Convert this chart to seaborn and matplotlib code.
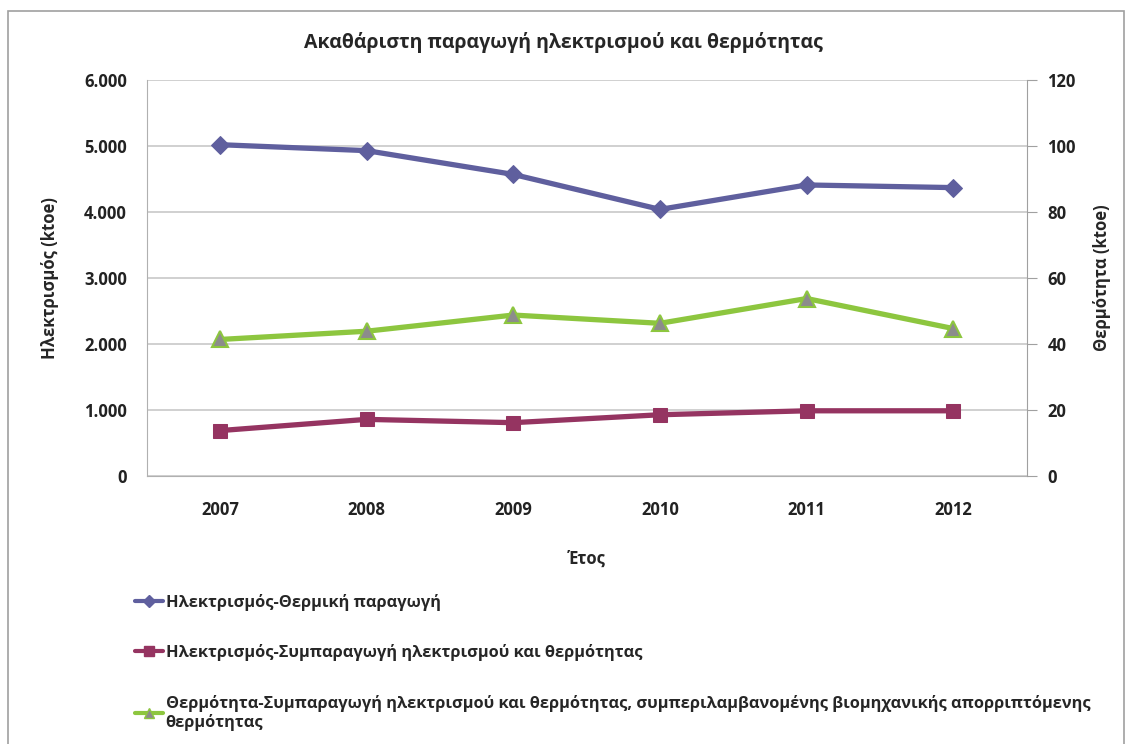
import seaborn as sns
import matplotlib.pyplot as plt
import matplotlib.patches as mpatches
from matplotlib.lines import Line2D
import pandas as pd
from matplotlib.ticker import FuncFormatter

years = [2007, 2008, 2009, 2010, 2011, 2012]
elec_thermal = [5020, 4930, 4570, 4040, 4410, 4370]
elec_chp = [690, 860, 810, 930, 990, 990]
heat_chp = [41.4, 43.9, 48.8, 46.3, 53.8, 44.7]

labels = [
    "Ηλεκτρισμός-Θερμική παραγωγή",
    "Ηλεκτρισμός-Συμπαραγωγή ηλεκτρισμού και θερμότητας",
    "Θερμότητα-Συμπαραγωγή ηλεκτρισμού και θερμότητας, συμπεριλαμβανομένης βιομηχανικής απορριπτόμενης\nθερμότητας",
]

blue = "#5f5f9e"
purple = "#953461"
green = "#8dc63f"
grey = "#8c8c8c"

sns.set_style("white")
plt.rcParams['font.family'] = ['Open Sans', 'DejaVu Sans']
plt.rcParams['font.weight'] = 'bold'

fig = plt.figure(figsize=(11.27, 7.44), dpi=100)
ax = fig.add_axes([0.13, 0.36, 0.781, 0.5325])
ax2 = ax.twinx()

df = pd.DataFrame({"Year": years, "thermal": elec_thermal, "chp": elec_chp, "heat": heat_chp})

sns.lineplot(data=df, x="Year", y="thermal", ax=ax, color=blue, lw=3.8,
             marker="D", markersize=9, markeredgecolor=blue, legend=False)
sns.lineplot(data=df, x="Year", y="chp", ax=ax, color=purple, lw=3.8,
             marker="s", markersize=10, markeredgecolor=purple, legend=False)
sns.lineplot(data=df, x="Year", y="heat", ax=ax2, color=green, lw=3.8,
             marker="^", markersize=11, markerfacecolor=grey, markeredgecolor=green,
             markeredgewidth=1.5, legend=False)

ax.set_xlim(2006.5, 2012.5)
ax.set_ylim(0, 6000)
ax2.set_ylim(0, 120)
ax.set_yticks(range(0, 6001, 1000))
ax2.set_yticks(range(0, 121, 20))
ax.set_xticks(years)
ax.yaxis.set_major_formatter(FuncFormatter(lambda v, p: f"{int(v):,}".replace(",", ".")))

ax.grid(axis="y", color="#c8c8c8", lw=1.2)
for a in (ax, ax2):
    for s in a.spines.values():
        s.set_visible(False)
ax.spines["left"].set_visible(True)
ax.spines["left"].set_color("#b0b0b0")
ax.spines["bottom"].set_visible(True)
ax.spines["bottom"].set_color("#b0b0b0")
ax2.spines["right"].set_visible(True)
ax2.spines["right"].set_color("#a0a0a0")

ax.tick_params(axis="y", length=0, labelsize=12, pad=14, colors="#222222")
ax.tick_params(axis="x", length=0, labelsize=12, pad=18, colors="#222222")
ax2.tick_params(axis="y", length=7, labelsize=12, pad=8, colors="#222222")
ax2.tick_params(axis="y", color="#a0a0a0")

ax.set_xlabel("Έτος", fontsize=12, fontweight="bold", labelpad=22)
ax.set_ylabel("Ηλεκτρισμός (ktoe)", fontsize=12, fontweight="bold", labelpad=18)
ax2.set_ylabel("Θερμότητα (ktoe)", fontsize=12, fontweight="bold", labelpad=12)
fig.text(0.5, 0.943, "Ακαθάριστη παραγωγή ηλεκτρισμού και θερμότητας",
         ha="center", va="center", fontsize=14, fontweight="bold")

handles = [
    Line2D([], [], color=blue, lw=3, marker="D", markersize=6),
    Line2D([], [], color=purple, lw=3, marker="s", markersize=7),
    Line2D([], [], color=green, lw=3, marker="^", markersize=7,
           markerfacecolor=grey, markeredgecolor=green),
]
fig.legend(handles, labels, loc="upper left", bbox_to_anchor=(0.107, 0.222),
           frameon=False, handlelength=1.7, handletextpad=0.15,
           labelspacing=2.05, prop={"weight": "bold", "size": 11.8})

fig.patches.append(mpatches.Rectangle((0.007, -0.1), 0.99, 1.085, transform=fig.transFigure,
                                      fill=False, edgecolor="#a0a0a0", lw=1.2))

plt.savefig("out.png", dpi=100)
plt.close()
